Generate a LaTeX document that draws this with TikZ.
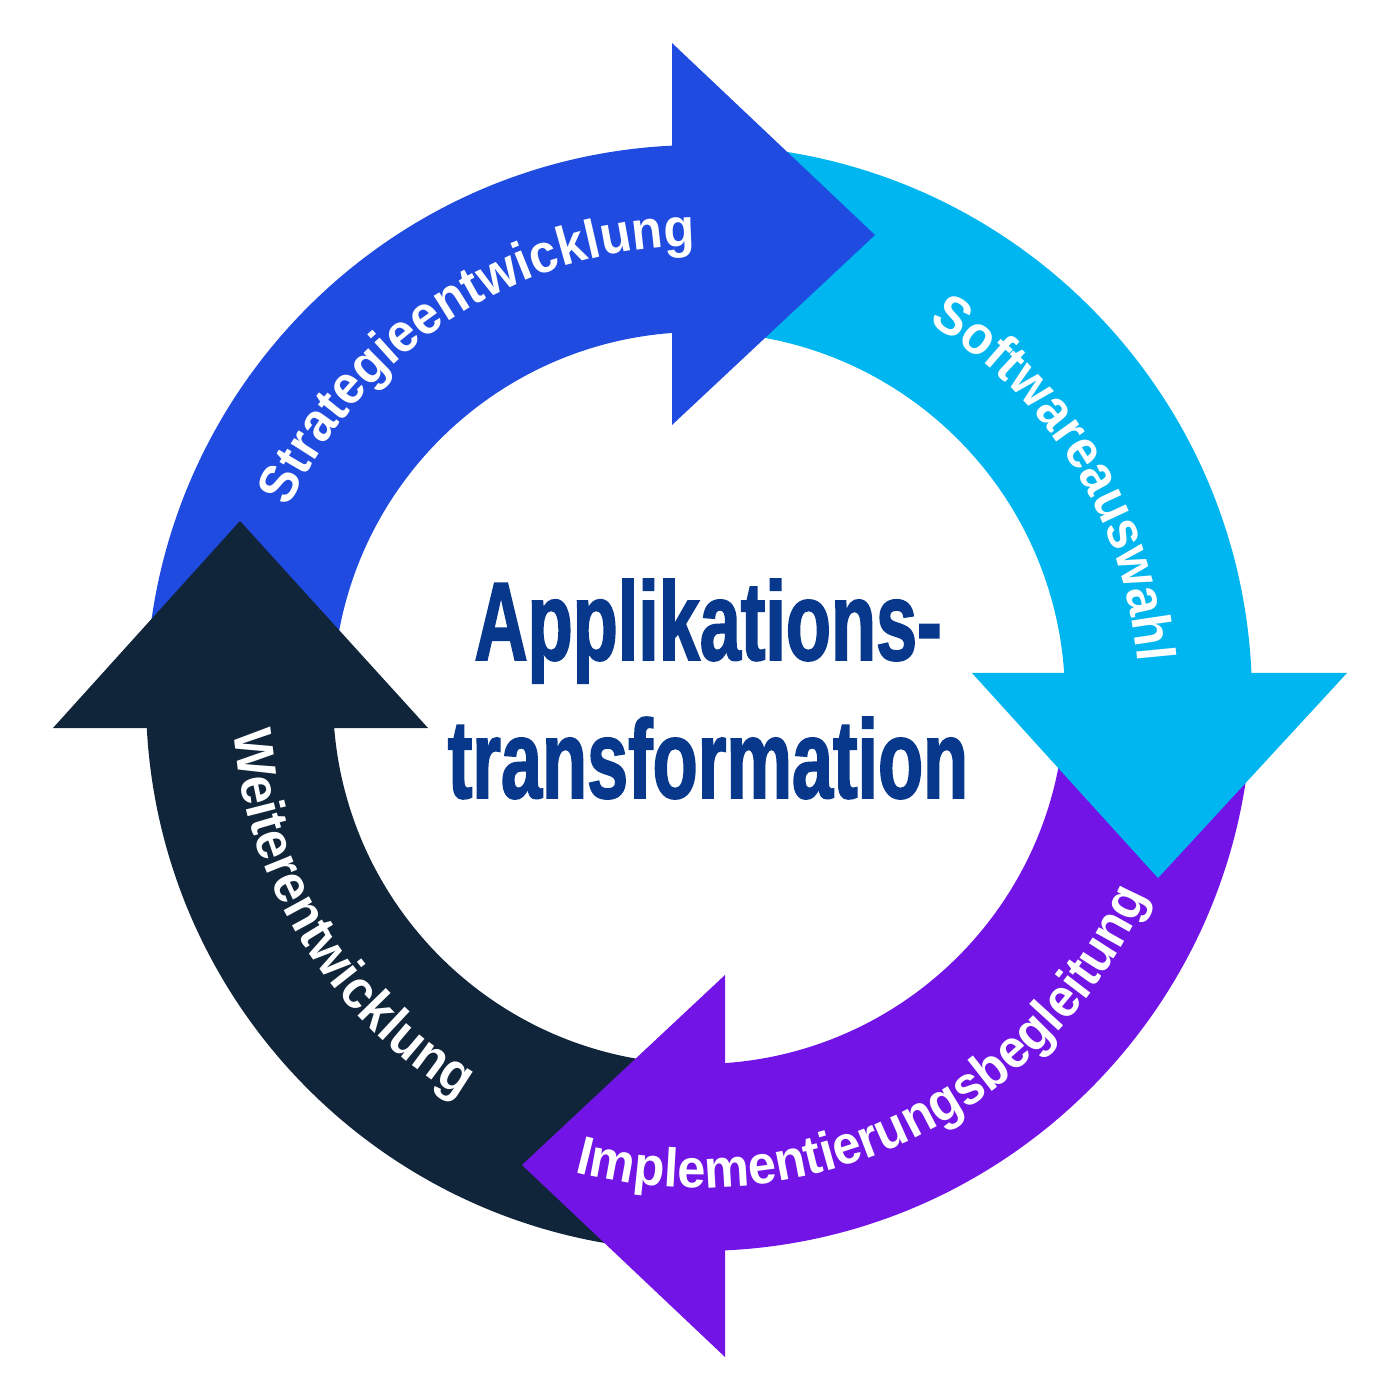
\documentclass[tikz,border=0pt]{standalone}
\usepackage{fontspec}
\setmainfont{Liberation Sans}
\newfontfamily\headfont{Liberation Sans}[FakeStretch=0.66,FakeBold=1.5]
\newfontfamily\arcfont{Liberation Sans}[FakeStretch=0.93]
\usetikzlibrary{decorations.text}
\definecolor{strategieblue}{RGB}{32,75,224}
\definecolor{softwareblue}{RGB}{0,182,240}
\definecolor{implpurple}{RGB}{114,20,230}
\definecolor{weiternavy}{RGB}{16,36,58}
\definecolor{titleblue}{RGB}{8,56,140}
\tikzset{
  ringlabel/.style={decorate, decoration={text along path, text align=center, text color=white,
    text={|\arcfont\bfseries\fontsize{15.5}{18}\selectfont|#1}}},
  title/.style={font=\headfont\bfseries\fontsize{31.8}{36}\selectfont, text=titleblue, inner sep=0pt}
}
\begin{document}
\begin{tikzpicture}
\useasboundingbox (-6.99,-7.02) rectangle (7.01,6.98);
\fill[strategieblue] (180:5.53) arc[start angle=180,end angle=90,radius=5.53] -- (90:3.66) arc[start angle=90,end angle=180,radius=3.66] -- cycle;
\fill[softwareblue] (90:5.53) arc[start angle=90,end angle=0,radius=5.53] -- (0:3.66) arc[start angle=0,end angle=90,radius=3.66] -- cycle;
\fill[implpurple] (0:5.53) arc[start angle=0,end angle=-90,radius=5.53] -- (-90:3.66) arc[start angle=-90,end angle=0,radius=3.66] -- cycle;
\fill[weiternavy] (-90:5.53) arc[start angle=-90,end angle=-180,radius=5.53] -- (-180:3.66) arc[start angle=-180,end angle=-90,radius=3.66] -- cycle;
\fill[strategieblue] (-0.27,2.73) -- (-0.27,6.55) -- (1.76,4.63) -- cycle;
\fill[softwareblue] (2.73,0.25) -- (6.48,0.25) -- (4.59,-1.80) -- cycle;
\fill[implpurple] (0.26,-2.77) -- (0.26,-6.59) -- (-1.77,-4.67) -- cycle;
\fill[weiternavy] (-2.71,-0.30) -- (-6.46,-0.30) -- (-4.59,1.77) -- cycle;
\path[ringlabel=Strategieentwicklung] (172.75:4.52) arc[start angle=172.75,end angle=72.75,radius=4.52];
\path[ringlabel=Softwareauswahl] (81.6:4.40) arc[start angle=81.6,end angle=-18.4,radius=4.40];
\path[ringlabel=Implementierungsbegleitung] (235.75:4.90) arc[start angle=235.75,end angle=355.75,radius=4.90];
\path[ringlabel=Weiterentwicklung] (161.65:4.66) arc[start angle=161.65,end angle=261.65,radius=4.66];
\node[title, anchor=base] (appl) at (0.09,0.38) {Applikations-};
\node[title, anchor=base] (trans) at (0.09,-1.00) {transformation};
\end{tikzpicture}
\end{document}
